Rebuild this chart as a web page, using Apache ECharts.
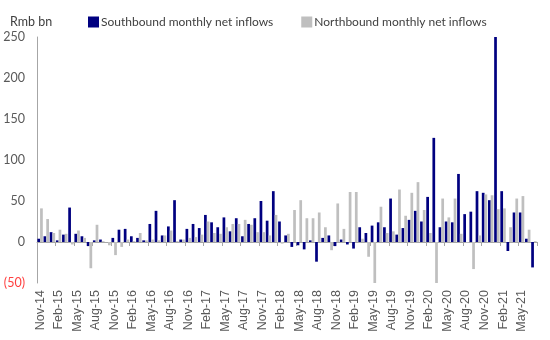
<!DOCTYPE html>
<html>
<head>
<meta charset="utf-8">
<script src="https://cdn.jsdelivr.net/npm/echarts@6/dist/echarts.min.js"></script>
<style>html,body{margin:0;padding:0;background:#fff;}#c{width:550px;height:340px;}</style>
</head>
<body>
<div id="c"></div>
<script>
const months = [
 'Nov-14','Dec-14',
 'Jan-15','Feb-15','Mar-15','Apr-15','May-15','Jun-15','Jul-15','Aug-15','Sep-15','Oct-15','Nov-15','Dec-15',
 'Jan-16','Feb-16','Mar-16','Apr-16','May-16','Jun-16','Jul-16','Aug-16','Sep-16','Oct-16','Nov-16','Dec-16',
 'Jan-17','Feb-17','Mar-17','Apr-17','May-17','Jun-17','Jul-17','Aug-17','Sep-17','Oct-17','Nov-17','Dec-17',
 'Jan-18','Feb-18','Mar-18','Apr-18','May-18','Jun-18','Jul-18','Aug-18','Sep-18','Oct-18','Nov-18','Dec-18',
 'Jan-19','Feb-19','Mar-19','Apr-19','May-19','Jun-19','Jul-19','Aug-19','Sep-19','Oct-19','Nov-19','Dec-19',
 'Jan-20','Feb-20','Mar-20','Apr-20','May-20','Jun-20','Jul-20','Aug-20','Sep-20','Oct-20','Nov-20','Dec-20',
 'Jan-21','Feb-21','Mar-21','Apr-21','May-21','Jun-21','Jul-21'
];
const southbound = [
 4, 7, 12, 2, 9, 42, 10, 7, -5, 2, 3, 0, 5, 15,
 16, 7, 5, 2, 22, 38, 8, 19, 51, 3, 16, 22,
 17, 33, 24, 18, 30, 13, 29, 7, 22, 29, 50, 26,
 62, 25, 8, -6, -4, -9, 2, -24, 5, 8, -5, 3,
 -3, -8, 18, 11, 20, 24, 18, 53, 9, 17, 27, 38,
 25, 55, 127, 18, 25, 24, 83, 34, 37, 62, 60, 51,
 250, 62, -11, 36, 36, 4, -31
];
const northbound = [
 41, 28, 11, 15, 10, -3, 14, 5, -32, 21, 1, -4, -16, -6,
 3, 1, 11, 2, 3, 2, 8, 14, 1, 3, 5, 6,
 9, 25, 11, 10, 18, 22, 22, 27, 21, 12, 12, 8,
 33, -2, 10, 39, 51, 29, 29, 36, 18, -10, 47, 16,
 61, 61, 4, -18, -53, 43, 11, 13, 64, 32, 60, 73,
 39, 11, -51, 53, 30, 53, 10, -1, -33, 8, 58, 57,
 40, 41, 18, 53, 56, 15, 1
];
const yMin = -50, yMax = 250, yStep = 50;

const chart = echarts.init(document.getElementById('c'), null, {renderer: 'canvas'});
const axisGray = '#a6a6a6';
const labelGray = '#595959';
chart.setOption({
  animation: false,
  grid: {left: 37, right: 13, top: 37, bottom: 57},
  title: {
    text: 'Rmb bn', left: 5, top: 10,
    textStyle: {fontFamily: 'Lato', fontSize: 12.5, fontWeight: 'normal', color: '#404040'}
  },
  legend: {
    left: 83, top: 11, itemWidth: 11, itemHeight: 11, itemGap: 28,
    icon: 'rect',
    textStyle: {fontFamily: 'Lato', fontSize: 12, color: '#404040', padding: [0, 0, 0, -3]},
    data: ['Southbound monthly net inflows', 'Northbound monthly net inflows']
  },
  xAxis: [
    {
      type: 'category', data: months, position: 'bottom',
      axisLine: {onZero: true, lineStyle: {color: axisGray, width: 1}},
      axisTick: {show: true, interval: 2, length: 4, lineStyle: {color: axisGray}},
      axisLabel: {show: false}
    },
    {
      type: 'category', data: months, position: 'bottom', gridIndex: 0,
      axisLine: {show: false, onZero: false},
      axisTick: {show: false},
      axisLabel: {
        interval: 2, rotate: 90, margin: 7,
        fontFamily: 'Liberation Sans', fontSize: 12.5, color: labelGray
      }
    }
  ],
  yAxis: {
    type: 'value', min: yMin, max: yMax, interval: yStep,
    splitLine: {show: false},
    axisLine: {show: true, lineStyle: {color: axisGray}},
    axisTick: {show: false},
    axisLabel: {
      margin: 12, fontFamily: 'Lato', fontSize: 12.5,
      color: (v) => (Number(v) < 0 ? '#ff4040' : labelGray),
      formatter: (v) => (v < 0 ? '(' + (-v) + ')' : String(v))
    }
  },
  series: [
    {
      name: 'Southbound monthly net inflows', type: 'bar', data: southbound,
      xAxisIndex: 0, itemStyle: {color: '#000080'},
      barGap: '0%', barCategoryGap: '12%'
    },
    {
      name: 'Northbound monthly net inflows', type: 'bar', data: northbound,
      xAxisIndex: 0, itemStyle: {color: '#bfbfbf'},
      barGap: '0%', barCategoryGap: '12%'
    }
  ]
});
</script>
</body>
</html>
